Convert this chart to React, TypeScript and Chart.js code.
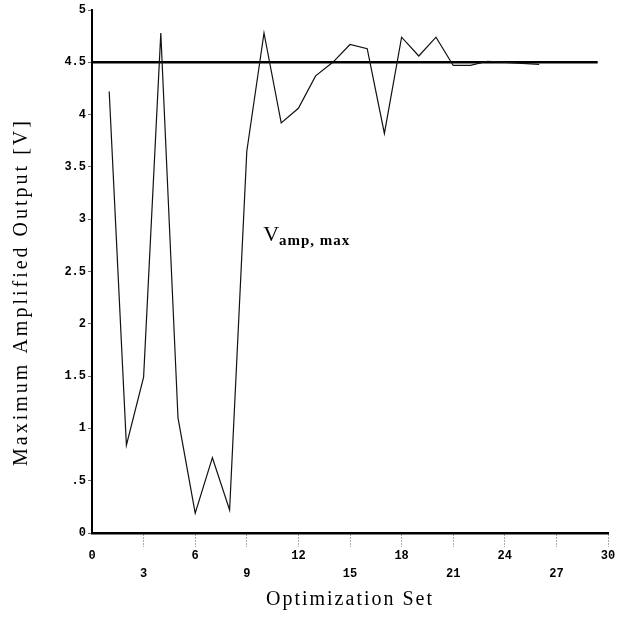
import React, { useEffect, useRef } from 'react';
import { Chart, registerables } from 'chart.js';

Chart.register(...registerables);

// ---- data ----
const optimizationSets = [1, 2, 3, 4, 5, 6, 7, 8, 9, 10, 11, 12, 13, 14, 15, 16, 17, 18, 19, 20, 21, 22, 23, 24, 25, 26];
const amplifiedOutput = [4.22, 0.84, 1.49, 4.78, 1.1, 0.19, 0.72, 0.22, 3.65, 4.78, 3.92, 4.06, 4.37, 4.5, 4.67, 4.63, 3.82, 4.74, 4.56, 4.74, 4.47, 4.47, 4.51, 4.5, 4.49, 4.48];
const vampMaxLevel = 4.5;
const vampMaxSpan = [0, 29.4];
const xTickValues = [0, 3, 6, 9, 12, 15, 18, 21, 24, 27, 30];
const yTickValues = [0, 0.5, 1, 1.5, 2, 2.5, 3, 3.5, 4, 4.5, 5];
const yTickLabels = ['0', '.5', '1', '1.5', '2', '2.5', '3', '3.5', '4', '4.5', '5'];
const xTitle = 'Optimization Set';
const yTitle = 'Maximum Amplified Output [V]';
const levelLabelMain = 'V';
const levelLabelSub = 'amp, max';
const levelLabelAt = { x: 9.95, y: 2.79 };

const titlesPlugin = {
  id: 'paperTitles',
  afterDraw(chart: any) {
    const ctx = chart.ctx as CanvasRenderingContext2D;
    const area = chart.chartArea;
    ctx.save();
    ctx.fillStyle = '#000';
    (ctx as any).letterSpacing = '2px';
    ctx.font = '20px "Liberation Serif"';
    ctx.textAlign = 'center';
    ctx.textBaseline = 'middle';
    ctx.fillText(xTitle, (area.left + area.right) / 2, 600);
    ctx.translate(22, 292);
    ctx.rotate(-Math.PI / 2);
    (ctx as any).letterSpacing = '3px';
    ctx.font = '20px "Liberation Serif"';
    ctx.fillText(yTitle, 0, 0);
    ctx.restore();
  },
  afterDatasetsDraw(chart: any) {
    const ctx = chart.ctx as CanvasRenderingContext2D;
    const px = chart.scales.x.getPixelForValue(levelLabelAt.x);
    const py = chart.scales.y.getPixelForValue(levelLabelAt.y);
    ctx.save();
    ctx.fillStyle = '#000';
    ctx.textAlign = 'left';
    ctx.textBaseline = 'alphabetic';
    ctx.font = '22px "Liberation Serif"';
    ctx.fillText(levelLabelMain, px, py);
    const w = ctx.measureText(levelLabelMain).width;
    (ctx as any).letterSpacing = '1px';
    ctx.font = 'bold 15px "Liberation Serif"';
    ctx.fillText(levelLabelSub, px + w, py + 4);
    ctx.restore();
  },
};

export default function App() {
  const canvasRef = useRef<HTMLCanvasElement | null>(null);

  useEffect(() => {
    if (!canvasRef.current) return;
    const chart = new Chart(canvasRef.current, {
      type: 'line',
      data: {
        datasets: [
          {
            label: 'Maximum amplified output',
            data: optimizationSets.map((s, i) => ({ x: s, y: amplifiedOutput[i] })),
            borderColor: '#111',
            borderWidth: 1.2,
            pointRadius: 0,
            tension: 0,
            fill: false,
          },
          {
            label: 'Vamp,max',
            data: vampMaxSpan.map((x) => ({ x, y: vampMaxLevel })),
            borderColor: '#000',
            borderWidth: 2.5,
            pointRadius: 0,
            fill: false,
          },
        ],
      },
      options: {
        animation: false,
        responsive: false,
        layout: { padding: { top: 10, right: 21, left: 0, bottom: 0 } },
        plugins: { legend: { display: false }, tooltip: { enabled: false } },
        scales: {
          x: {
            type: 'linear',
            min: 0,
            max: 30,
            afterBuildTicks: (s: any) => {
              s.ticks = xTickValues.map((v) => ({ value: v }));
            },
            afterFit: (s: any) => {
              s.height = 85;
            },
            border: { display: true, color: '#000', width: 2.5 },
            grid: {
              drawOnChartArea: false,
              drawTicks: true,
              tickLength: 14,
              tickWidth: 1,
              tickBorderDash: [1, 2],
              tickColor: (c: any) => (c.tick && c.tick.value === 0 ? 'rgba(0,0,0,0)' : '#555'),
            },
            ticks: {
              autoSkip: false,
              maxRotation: 0,
              minRotation: 0,
              padding: 0,
              color: '#000',
              font: { family: '"Liberation Mono"', size: 12, weight: 'bold', lineHeight: 1.5 },
              callback: (v: any) => ((Number(v) / 3) % 2 === 1 ? ['', String(v)] : String(v)),
            },
          },
          y: {
            type: 'linear',
            min: 0,
            max: 5,
            afterBuildTicks: (s: any) => {
              s.ticks = yTickValues.map((v) => ({ value: v }));
            },
            afterFit: (s: any) => {
              s.width = 92;
            },
            border: { display: true, color: '#000', width: 2 },
            grid: { drawOnChartArea: false, drawTicks: true, tickLength: 4, tickColor: '#666' },
            ticks: {
              padding: 2,
              color: '#000',
              font: { family: '"Liberation Mono"', size: 12, weight: 'bold' },
              callback: (v: any) => yTickLabels[Math.round(Number(v) * 2)],
            },
          },
        },
      } as any,
      plugins: [titlesPlugin],
    });
    return () => chart.destroy();
  }, []);

  return (
    <div style={{ position: 'fixed', left: 0, top: 0, width: 629, height: 618, background: '#fff' }}>
      <canvas ref={canvasRef} width={629} height={618} style={{ display: 'block' }} />
    </div>
  );
}
